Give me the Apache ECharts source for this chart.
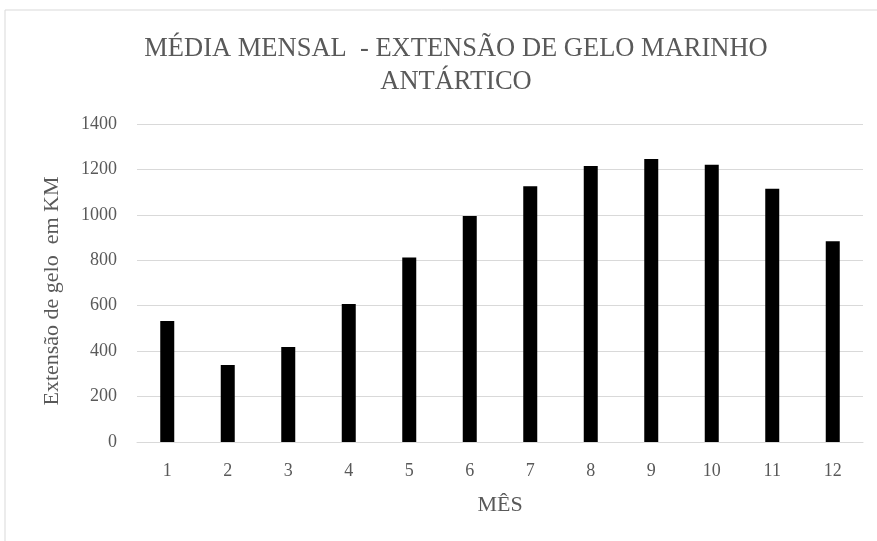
<!DOCTYPE html>
<html>
<head>
<meta charset="utf-8">
<script src="https://cdn.jsdelivr.net/npm/echarts@6/dist/echarts.min.js"></script>
<style>
  html, body { margin: 0; padding: 0; background: #fff; }
  #chart { width: 877px; height: 541px; }
</style>
</head>
<body>
<div id="chart"></div>
<script>
const meses = ['1', '2', '3', '4', '5', '6', '7', '8', '9', '10', '11', '12']
const extensao = [533, 339, 418, 608, 812, 995, 1126, 1215, 1246, 1221, 1115, 884]

const fonte = '"Liberation Serif", "DejaVu Serif", serif'
const cinza = '#595959'

const chart = echarts.init(document.getElementById('chart'))
chart.setOption({
    backgroundColor: '#fff',
    title: {
        text: 'MÉDIA MENSAL  - EXTENSÃO DE GELO MARINHO\nANTÁRTICO',
        left: 451,
        textAlign: 'center',
        top: 28,
        textStyle: {
            fontFamily: fonte,
            fontWeight: 'normal',
            fontSize: 26.5,
            lineHeight: 33,
            color: cinza
        }
    },
    // moldura do gráfico
    graphic: [{
        type: 'rect',
        shape: { x: 5, y: 10, width: 900, height: 560 },
        style: { fill: 'none', stroke: '#d9d9d9', lineWidth: 1 },
        silent: true
    }],
    grid: {
        left: 137,
        right: 14,
        top: 124,
        bottom: 99
    },
    xAxis: {
        type: 'category',
        data: meses,
        name: 'MÊS',
        nameLocation: 'middle',
        nameGap: 52,
        nameTextStyle: { fontFamily: fonte, fontSize: 22, color: cinza },
        axisLine: { lineStyle: { color: '#d9d9d9' } },
        axisTick: { show: false },
        axisLabel: { fontFamily: fonte, fontSize: 18, color: cinza, margin: 20 }
    },
    yAxis: {
        type: 'value',
        min: 0,
        max: 1400,
        interval: 200,
        name: 'Extensão de gelo  em KM',
        nameLocation: 'middle',
        nameGap: 74,
        nameTextStyle: { fontFamily: fonte, fontSize: 22, color: cinza, padding: [0, 16, 0, 0] },
        axisLabel: {
            fontFamily: fonte,
            fontSize: 18,
            color: cinza,
            margin: 20,
            formatter: v => String(v)
        },
        splitLine: { lineStyle: { color: '#d9d9d9' } }
    },
    series: [{
        type: 'bar',
        data: extensao,
        barWidth: 14,
        itemStyle: { color: '#000' }
    }]
})
</script>
</body>
</html>
